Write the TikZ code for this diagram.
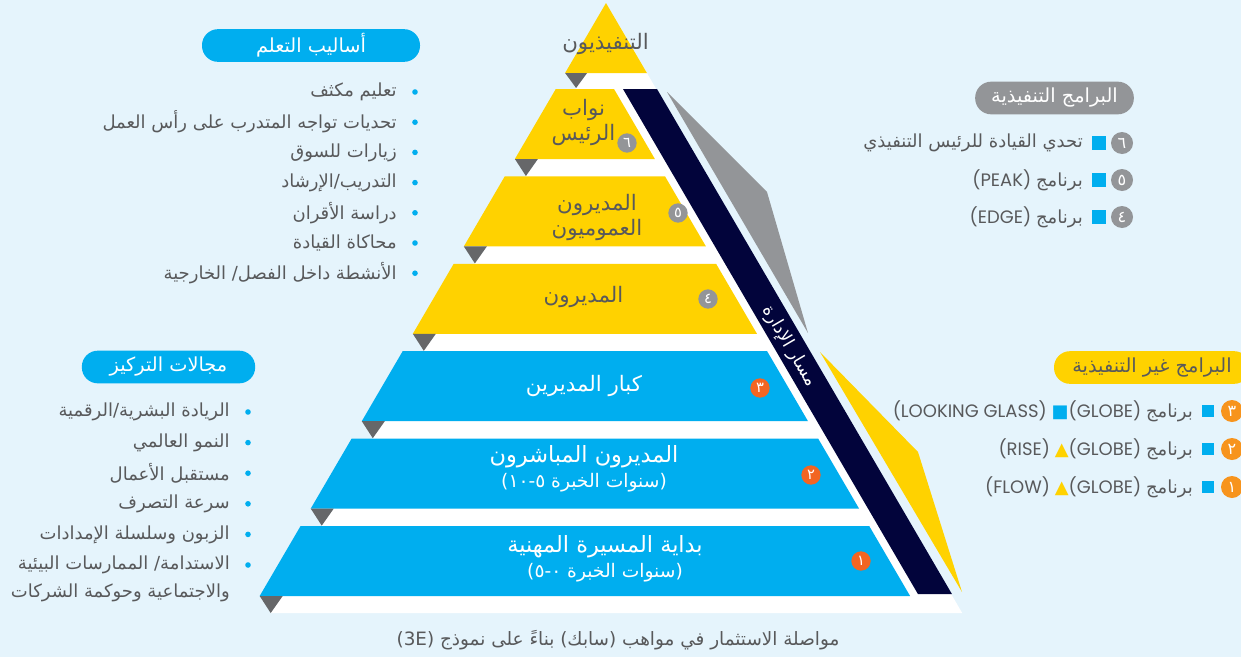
\documentclass[tikz,border=0pt]{standalone}
\usepackage{fontspec}
\usepackage{xcolor}
\setmainfont{Poppins}
\newfontfamily\arabicfont[Script=Arabic]{DejaVu Sans}
\newfontfamily\symbolfont{DejaVu Sans}
\TeXXeTstate=1
\newcommand{\ar}[1]{{\arabicfont\beginR #1\endR}}
\newcommand{\yearfont}{\fontsize{14}{19}\selectfont}
\newcommand{\leadfont}{\fontsize{16.8}{19}\selectfont}

\definecolor{SabicBg}{HTML}{E5F4FC}
\definecolor{SabicCyan}{HTML}{00AEEF}
\definecolor{SabicYellow}{HTML}{FFD200}
\definecolor{SabicNavy}{HTML}{02043B}
\definecolor{SabicGray}{HTML}{939598}
\definecolor{SabicDark}{HTML}{666769}
\definecolor{SabicText}{HTML}{58595B}
\definecolor{SabicOrange}{HTML}{F26522}
\definecolor{SabicAmber}{HTML}{F7941D}

\begin{document}
\begin{tikzpicture}[
    x=0.75pt, y=-0.75pt,
    declare function={xl(\y)=606-(\y-3)*0.584; xr(\y)=614+(\y-89)*0.584;},
    pill/.style={rectangle, rounded corners=12pt, minimum height=24.5pt, text=white, font=\fontsize{14.5}{16}\selectfont, inner sep=0pt},
    listtext/.style={text=SabicText, font=\fontsize{13.5}{21}\selectfont, inner sep=0pt, align=right},
    tiertext/.style={font=\fontsize{16}{19}\selectfont, inner sep=0pt, align=center},
    numdot/.style={circle, minimum size=14.5pt, inner sep=0pt, text=white, font=\fontsize{11}{11}\selectfont},
    listdot/.style={circle, minimum size=16.5pt, inner sep=0pt, text=white, font=\fontsize{12}{12}\selectfont},
    sq/.style={rectangle, fill=SabicCyan, minimum size=10.5pt, inner sep=0pt}
]
\useasboundingbox (0,0) rectangle (1241,657);
\fill[SabicBg] (0,0) rectangle (1241,657);

% Pyramid
\fill[white] (606,3) -- (962.2,613)
    \foreach \b in {596,508.6,421.2,333.8,246.4,159} { -- ({xl(\b)+11},{\b+17}) -- ({xl(\b)+23},\b) }
    -- (576,88) -- (587,73) -- cycle;
\fill[SabicYellow] (606,3) -- (646.9,73) -- (565.1,73) -- cycle;
\fill[SabicDark] (565.1,73) -- ++(22,0) -- ++(-11,15) -- cycle;
\foreach \k/\col in {6/SabicYellow,5/SabicYellow,4/SabicYellow,3/SabicCyan,2/SabicCyan,1/SabicCyan} {
    \pgfmathsetmacro\t{89+(6-\k)*87.4}
    \pgfmathsetmacro\b{\t+70}
    \fill[\col] ({xl(\t)},\t) -- ({xr(\t)},\t) -- ({xr(\b)},\b) -- ({xl(\b)},\b) -- cycle;
    \fill[SabicDark] ({xl(\b)},\b) -- ++(23,0) -- ++(-12,17) -- cycle;
}
\fill[SabicNavy] (623,89) -- (657,89) -- (951.9,594) -- (917.9,594) -- cycle;
\fill[SabicGray] (667,92) -- (767,192) -- (808,333) -- cycle;
\fill[SabicYellow] (820,352) -- (918,452) -- (962,592) -- cycle;
\node[white, rotate=-59.7, font=\fontsize{13.3}{13}\selectfont] (track) at (789,346) {\ar{مسار الإدارة}};

% Tier labels
\node[tiertext, text=SabicText] (tier7) at (605.5,44) {\ar{التنفيذيون}};
\node[tiertext, text=SabicText] (tier6) at (583.5,122.5) {\ar{نواب}\\\ar{الرئيس}};
\node[tiertext, text=SabicText] (tier5) at (597,217.5) {\ar{المديرون}\\\ar{العموميون}};
\node[tiertext, text=SabicText] (tier4) at (583.5,297) {\ar{المديرون}};
\node[tiertext, white] (tier3) at (584,386) {\ar{كبار المديرين}};
\node[tiertext, white] (tier2) at (584,469) {{\leadfont\ar{المديرون المباشرون}}\\{\yearfont\ar{(سنوات الخبرة ٥-١٠)}}};
\node[tiertext, white] (tier1) at (605,558.5) {{\leadfont\ar{بداية المسيرة المهنية}}\\{\yearfont\ar{(سنوات الخبرة ٠-٥)}}};
\node[numdot, fill=SabicGray] (num6) at (627,143) {\ar{٦}};
\node[numdot, fill=SabicGray] (num5) at (678,213) {\ar{٥}};
\node[numdot, fill=SabicGray] (num4) at (708,299) {\ar{٤}};
\node[numdot, fill=SabicOrange] (num3) at (760,388) {\ar{٣}};
\node[numdot, fill=SabicOrange] (num2) at (811,475) {\ar{٢}};
\node[numdot, fill=SabicOrange] (num1) at (861,561) {\ar{١}};

% Learning methods
\node[pill, fill=SabicCyan, minimum width=163.5pt] (learnhead) at (311,45.5) {\ar{أساليب التعلم}};
\foreach \txt [count=\i] in {تعليم مكثف, تحديات تواجه المتدرب على رأس العمل, زيارات للسوق, التدريب/الإرشاد, دراسة الأقران, محاكاة القيادة, الأنشطة داخل الفصل/ الخارجية} {
    \node[listtext, anchor=east] (learn\i) at (397,{92+(\i-1)*30.2}) {\ar{\txt}};
    \fill[SabicCyan] (415,{92+(\i-1)*30.2}) circle (2.8);
}

% Focus areas
\node[pill, fill=SabicCyan, minimum width=130pt] (focushead) at (168.5,367) {\ar{مجالات التركيز}};
\foreach \txt [count=\i] in {الريادة البشرية/الرقمية, النمو العالمي, مستقبل الأعمال, سرعة التصرف, الزبون وسلسلة الإمدادات} {
    \node[listtext, anchor=east] (focus\i) at (230,{412+(\i-1)*30.6}) {\ar{\txt}};
    \fill[SabicCyan] (248,{412+(\i-1)*30.6}) circle (2.8);
}
\node[listtext, anchor=east] (focus6) at (230,579) {\ar{الاستدامة/ الممارسات البيئية}\\\ar{والاجتماعية وحوكمة الشركات}};
\fill[SabicCyan] (248,565) circle (2.8);

% Executive programs
\node[pill, fill=SabicGray, minimum width=119pt] (exechead) at (1054.5,98) {\ar{البرامج التنفيذية}};
\foreach \n/\txt [count=\i] in {٦/{\ar{تحدي القيادة للرئيس التنفيذي}}, ٥/{(PEAK) \ar{برنامج}}, ٤/{(EDGE) \ar{برنامج}}} {
    \node[listdot, fill=SabicGray] (execnum\i) at (1122,{143+(\i-1)*37}) {\ar{\n}};
    \node[sq] (execsq\i) at (1099,{143+(\i-1)*37}) {};
    \node[listtext, anchor=east] (exec\i) at (1083,{143+(\i-1)*37}) {\txt};
}

% Non-executive programs
\node[pill, fill=SabicYellow, text=SabicText, minimum width=147pt] (nonexechead) at (1152,367.5) {\ar{البرامج غير التنفيذية}};
\foreach \n/\txt [count=\i] in {٣/{(LOOKING GLASS) {\symbolfont\color{SabicCyan}■}(GLOBE) \ar{برنامج}}, ٢/{(RISE) {\symbolfont\color{SabicYellow}▲}(GLOBE) \ar{برنامج}}, ١/{(FLOW) {\symbolfont\color{SabicYellow}▲}(GLOBE) \ar{برنامج}}} {
    \node[listdot, fill=SabicAmber] (nonexecnum\i) at (1232,{411+(\i-1)*38}) {\ar{\n}};
    \node[sq, minimum size=9.5pt] (nonexecsq\i) at (1208,{411+(\i-1)*38}) {};
    \node[listtext, anchor=east] (nonexec\i) at (1193,{411+(\i-1)*38}) {\txt};
}

% Caption
\node[text=SabicText, font=\fontsize{13.8}{14}\selectfont] (caption) at (618,640) {\ar{مواصلة الاستثمار في مواهب (سابك) بناءً على نموذج \beginL(3E)\endL}};
\end{tikzpicture}
\end{document}
